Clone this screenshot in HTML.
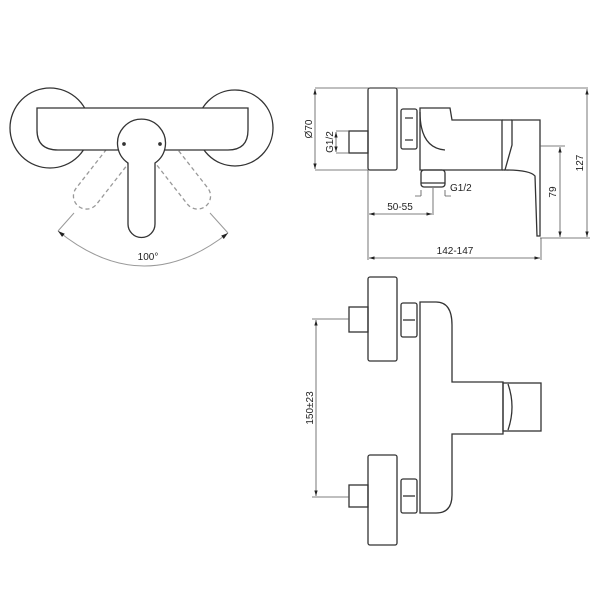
<!DOCTYPE html>
<html><head><style>body{margin:0;background:#fff}svg{display:block}</style></head><body>
<svg width="600" height="600" viewBox="0 0 600 600" xmlns="http://www.w3.org/2000/svg" font-family="Liberation Sans, sans-serif">
<defs><marker id="a" viewBox="0 0 10 10" refX="10" refY="5" markerWidth="7" markerHeight="7" orient="auto-start-reverse"><path d="M0,2 L10,5 L0,8z" fill="#222"/></marker></defs>
<g fill="#fff" stroke="#333" stroke-width="1.3">
<!-- top-left view -->
<circle cx="50" cy="128" r="40"/>
<circle cx="235" cy="128" r="38"/>
<g stroke-dasharray="4,3" stroke="#999" fill="none">
<rect x="-13" y="0" width="26" height="74" rx="13" transform="translate(124,148) rotate(38)"/>
<rect x="-13" y="0" width="26" height="74" rx="13" transform="translate(160,148) rotate(-38)"/>
</g>
<path d="M37,108 H248 V130 Q248,150 228,150 H58 Q37,150 37,130 Z"/>
<path d="M128,163 A24,24 0 1 1 155,163 L155,224 A13.5,13.5 0 0 1 128,224 Z"/>
<circle cx="124" cy="144" r="1.2" fill="#333"/><circle cx="160" cy="144" r="1.2" fill="#333"/>
</g>
<g fill="none" stroke="#999" stroke-width="1">
<path d="M74,213 L58,231"/><path d="M210,213 L228,233"/>
<path d="M58,231 Q143,300 228,233" marker-start="url(#a)" marker-end="url(#a)"/>
</g>
<g fill="none" stroke="#333" stroke-width="1.3">
<!-- top-right side view -->
<rect x="368" y="88" width="29" height="82" rx="2"/>
<rect x="349" y="131" width="19" height="22"/>
<rect x="401" y="109" width="16" height="40" rx="2"/>
<path d="M405,118 H413 M405,140 H413"/>
<path d="M420,108 H450 L452,120 H502 V170 H420 Z"/>
<path d="M420,112 Q420,148 445,150"/>
<path d="M512,120 H540 V236 H537 L535,176 Q530,170 505,170 L512,145 Z"/>
<path d="M502,120 L512,120 M502,170 L505,170"/>
<rect x="421" y="170" width="24" height="17" rx="3"/>
<path d="M421,183 H445"/>
</g>
<g stroke="#555" stroke-width="0.8" fill="none">
<path d="M315,88 H588 M315,170 H368 M336,131 H349 M336,153 H349 M368,170 V260 M541,238 V260 M433,188 V215 M540,146 H565 M540,238 H590"/>
<path d="M315,89 V169" marker-start="url(#a)" marker-end="url(#a)"/>
<path d="M336,132 V152" marker-start="url(#a)" marker-end="url(#a)"/>
<path d="M587,89 V237" marker-start="url(#a)" marker-end="url(#a)"/>
<path d="M560,147 V237" marker-start="url(#a)" marker-end="url(#a)"/>
<path d="M369,214 H432" marker-start="url(#a)" marker-end="url(#a)"/>
<path d="M369,258 H540" marker-start="url(#a)" marker-end="url(#a)"/>
<path d="M421,196 V190 M445,196 V190 M415,196 H421 M445,196 H451" />
</g>
<g font-size="10" fill="#222">
<text x="148" y="260" text-anchor="middle">100°</text>
<text x="400" y="210" text-anchor="middle">50-55</text>
<text x="455" y="254" text-anchor="middle">142-147</text>
<text x="450" y="191">G1/2</text>
<text transform="translate(312,129) rotate(-90)" text-anchor="middle">Ø70</text>
<text transform="translate(333,142) rotate(-90)" text-anchor="middle">G1/2</text>
<text transform="translate(556,192) rotate(-90)" text-anchor="middle">79</text>
<text transform="translate(583,163) rotate(-90)" text-anchor="middle">127</text>
<text transform="translate(313,408) rotate(-90)" text-anchor="middle">150±23</text>
</g>
<!-- bottom front view -->
<g fill="none" stroke="#333" stroke-width="1.3">
<rect x="368" y="277" width="29" height="84" rx="2"/>
<rect x="349" y="307" width="19" height="25"/>
<rect x="401" y="303" width="16" height="34" rx="2"/>
<path d="M403,320 H415"/>
<path d="M420,302 H436 Q452,302 452,325 V382 H503 V434 H452 V495 Q452,513 436,513 H420 Z"/>
<rect x="503" y="383" width="38" height="48"/>
<path d="M508,384 Q516,407 508,430"/>
<rect x="368" y="455" width="29" height="90" rx="2"/>
<rect x="349" y="485" width="19" height="22"/>
<rect x="401" y="479" width="16" height="34" rx="2"/>
<path d="M403,496 H415"/>
</g>
<g stroke="#555" stroke-width="0.8" fill="none">
<path d="M312,319 H349 M312,497 H349"/>
<path d="M316,320 V496" marker-start="url(#a)" marker-end="url(#a)"/>
</g>
</svg>
</body></html>
